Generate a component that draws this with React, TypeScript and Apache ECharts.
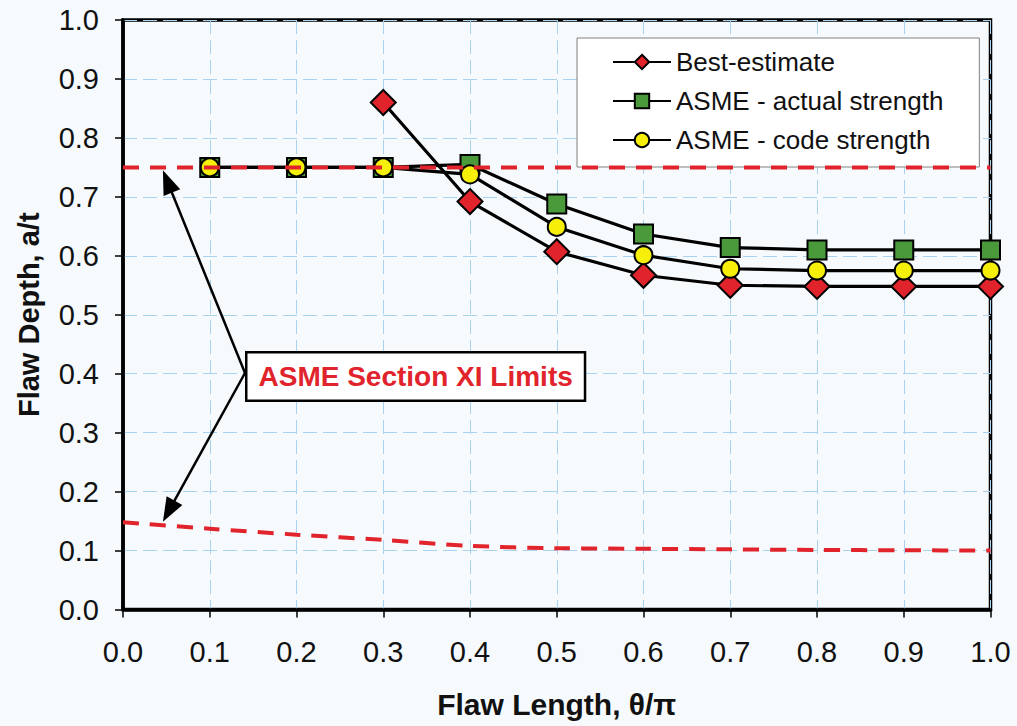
import React, { useEffect, useRef } from "react";
import * as echarts from "echarts";

// ---- data ----
const flawLength = [0.1, 0.2, 0.3, 0.4, 0.5, 0.6, 0.7, 0.8, 0.9, 1.0];
const bestEstimate = [null, null, 0.86, 0.692, 0.607, 0.567, 0.55, 0.548, 0.548, 0.548];
const asmeActual = [0.75, 0.75, 0.75, 0.755, 0.688, 0.637, 0.614, 0.61, 0.61, 0.61];
const asmeCode = [0.75, 0.75, 0.75, 0.738, 0.649, 0.601, 0.578, 0.575, 0.575, 0.575];

const upperLimitX = [0.0, 1.0];
const upperLimitY = [0.75, 0.75];
const lowerLimitX = [0.0, 0.1, 0.2, 0.3, 0.4, 0.5, 0.6, 0.7, 0.8, 0.9, 1.0];
const lowerLimitY = [0.148, 0.137, 0.127, 0.118, 0.108, 0.104, 0.103, 0.102, 0.101, 0.1005, 0.1];

const axisTicks = [0, 0.1, 0.2, 0.3, 0.4, 0.5, 0.6, 0.7, 0.8, 0.9, 1.0];
const seriesNames = ["Best-estimate", "ASME - actual strength", "ASME - code strength"];
const annotationText = "ASME Section XI Limits";
const arrowTargets = [
  [0.046, 0.745],
  [0.046, 0.149],
];

const FONT = "'Liberation Sans', Arial, Helvetica, sans-serif";
const RED = "#e1242c";

function pairs(xs: number[], ys: (number | null)[]) {
  const out: number[][] = [];
  xs.forEach((x, i) => {
    const y = ys[i];
    if (y !== null && y !== undefined) out.push([x, y]);
  });
  return out;
}

export default function App() {
  const ref = useRef<HTMLDivElement>(null);

  useEffect(() => {
    document.body.style.background = "#f6fafc";
    const chart = echarts.init(ref.current!, undefined, { renderer: "svg" });

    const markerBorder = { borderColor: "#000", borderWidth: 2 };
    const lineBase = { color: "#000", width: 3.2 };

    const option: any = {
      animation: false,
      backgroundColor: "#f6fafc",
      textStyle: { fontFamily: FONT },
      grid: {
        left: 123,
        right: 26.5,
        top: 20,
        bottom: 116.5,
        show: true,
        borderColor: "#000",
        borderWidth: 3.5,
        backgroundColor: "transparent",
      },
      legend: {
        data: seriesNames,
        orient: "vertical",
        left: 577,
        top: 38,
        itemWidth: 58,
        itemHeight: 18,
        itemGap: 13,
        padding: [11, 36, 14, 35],
        backgroundColor: "#ffffff",
        borderColor: "#808080",
        borderWidth: 1,
        textStyle: { fontSize: 26, color: "#111", fontFamily: FONT },
      },
      xAxis: {
        type: "value",
        min: 0,
        max: 1,
        interval: 0.1,
        name: "Flaw Length, θ/π",
        nameLocation: "middle",
        nameGap: 80,
        nameTextStyle: { fontSize: 30, fontWeight: "bold", color: "#111", fontFamily: FONT },
        axisLine: { show: true, lineStyle: { color: "#000", width: 3.5 } },
        axisTick: { show: true, length: 8, lineStyle: { color: "#000", width: 1.5 } },
        axisLabel: {
          fontSize: 29,
          color: "#111",
          margin: 28,
          formatter: (v: number) => v.toFixed(1),
        },
        splitLine: { show: true, lineStyle: { color: "#a9d2ee", width: 1, type: [14, 6] } },
      },
      yAxis: {
        type: "value",
        min: 0,
        max: 1,
        interval: 0.1,
        name: "Flaw Depth, a/t",
        nameLocation: "middle",
        nameRotate: 90,
        nameGap: 80,
        nameTextStyle: { fontSize: 29, fontWeight: "bold", color: "#111", fontFamily: FONT },
        axisLine: { show: true, lineStyle: { color: "#000", width: 3.5 } },
        axisTick: { show: true, length: 8, lineStyle: { color: "#000", width: 1.5 } },
        axisLabel: {
          fontSize: 29,
          color: "#111",
          margin: 24,
          formatter: (v: number) => v.toFixed(1),
        },
        splitLine: { show: true, lineStyle: { color: "#a9d2ee", width: 1, type: [14, 6] } },
      },
      series: [
        {
          name: seriesNames[0],
          type: "line",
          z: 3,
          data: pairs(flawLength, bestEstimate),
          symbol: "diamond",
          symbolSize: 25,
          lineStyle: lineBase,
          itemStyle: { color: RED, ...markerBorder },
        },
        {
          name: seriesNames[1],
          type: "line",
          z: 3,
          data: pairs(flawLength, asmeActual),
          symbol: "rect",
          symbolSize: 19,
          lineStyle: lineBase,
          itemStyle: { color: "#4a9a3c", ...markerBorder },
        },
        {
          name: seriesNames[2],
          type: "line",
          z: 3,
          data: pairs(flawLength, asmeCode),
          symbol: "circle",
          symbolSize: 18,
          lineStyle: lineBase,
          itemStyle: { color: "#f6ef0a", ...markerBorder },
        },
        {
          name: "upper limit",
          type: "line",
          z: 5,
          data: pairs(upperLimitX, upperLimitY),
          showSymbol: false,
          symbol: "none",
          lineStyle: { color: RED, width: 4, type: [16, 11] },
        },
        {
          name: "lower limit",
          type: "line",
          z: 5,
          smooth: 0.3,
          data: pairs(lowerLimitX, lowerLimitY),
          showSymbol: false,
          symbol: "none",
          lineStyle: { color: RED, width: 4, type: [16, 11] },
        },
      ],
    };

    chart.setOption(option);

    // annotation box & arrows
    const start = [245, 373];
    const arrowEls: any[] = [];
    arrowTargets.forEach((t) => {
      const tip = chart.convertToPixel({ gridIndex: 0 }, t) as number[];
      const dx = tip[0] - start[0];
      const dy = tip[1] - start[1];
      const len = Math.sqrt(dx * dx + dy * dy);
      const ux = dx / len;
      const uy = dy / len;
      const headLen = 24;
      const headHalf = 9;
      const bx = tip[0] - ux * headLen;
      const by = tip[1] - uy * headLen;
      arrowEls.push({
        type: "line",
        z: 20,
        shape: { x1: start[0], y1: start[1], x2: bx + ux * 2, y2: by + uy * 2 },
        style: { stroke: "#000", lineWidth: 2.5 },
      });
      arrowEls.push({
        type: "polygon",
        z: 20,
        shape: {
          points: [
            [tip[0], tip[1]],
            [bx - uy * headHalf, by + ux * headHalf],
            [bx + uy * headHalf, by - ux * headHalf],
          ],
        },
        style: { fill: "#000" },
      });
    });

    chart.setOption({
      graphic: [
        ...arrowEls,
        {
          type: "text",
          left: 245,
          top: 351,
          z: 21,
          style: {
            text: annotationText,
            fill: RED,
            fontSize: 28,
            fontWeight: "bold",
            fontFamily: FONT,
            backgroundColor: "#ffffff",
            borderColor: "#000",
            borderWidth: 2.5,
            padding: [9, 11, 9, 11],
          },
        },
      ],
    });

    return () => chart.dispose();
  }, []);

  return (
    <div
      ref={ref}
      style={{ position: "fixed", left: 0, top: 0, width: 1017, height: 726, background: "#f6fafc" }}
    />
  );
}
